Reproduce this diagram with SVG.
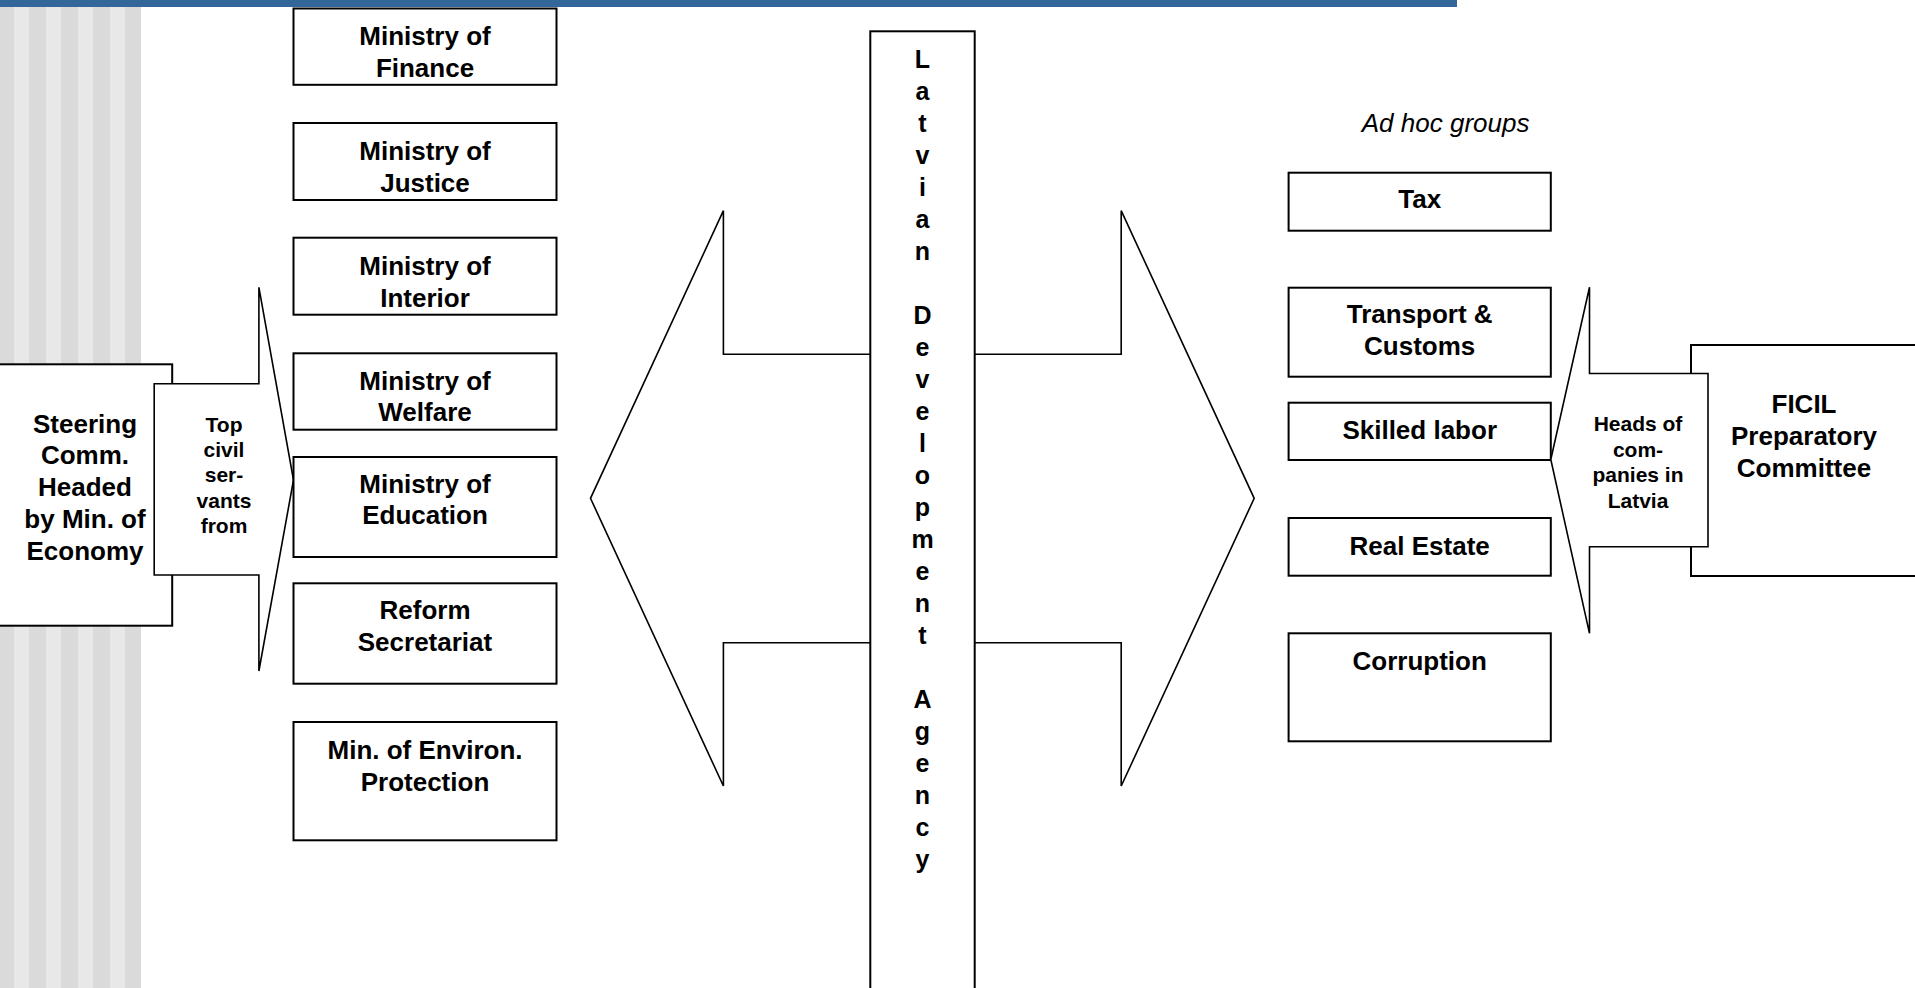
<svg xmlns="http://www.w3.org/2000/svg" width="1915" height="988" viewBox="0 0 1915 988">
  <style>
    text { font-family: "Liberation Sans", Arial, Helvetica, sans-serif; fill: #000; text-anchor: middle; }
    .b { font-weight: bold; font-size: 26px; }
    .s { font-weight: bold; font-size: 21px; }
    .l { font-weight: bold; font-size: 25px; }
    .it { font-style: italic; font-size: 26px; }
    .box { fill: #fff; stroke: #000; stroke-width: 2; }
    .shape { fill: #fff; stroke: #000; stroke-width: 1.6; stroke-linejoin: miter; }
    .dk { fill: #dadada; }
    .lt { fill: #e8e8e8; }
  </style>
  <rect x="0" y="0" width="1915" height="988" fill="#fff"/>
  <g id="background">
    <rect class="dk" x="0" y="7" width="14" height="981"/>
    <rect class="lt" x="14" y="7" width="15" height="981"/>
    <rect class="dk" x="29" y="7" width="17" height="981"/>
    <rect class="lt" x="46" y="7" width="15" height="981"/>
    <rect class="dk" x="61" y="7" width="17" height="981"/>
    <rect class="lt" x="78" y="7" width="15" height="981"/>
    <rect class="dk" x="93" y="7" width="17" height="981"/>
    <rect class="lt" x="110" y="7" width="15" height="981"/>
    <rect class="dk" x="125" y="7" width="16" height="981"/>
    <rect x="0" y="0" width="1457" height="7" fill="#336699"/>
  </g>

  <g id="connectors">
    <polygon id="arrow-left" class="shape" points="871,354.3 723.4,354.3 723.4,210.7 590.5,498.3 723.4,786 723.4,642.7 871,642.7"/>
    <polygon id="arrow-right" class="shape" points="974,354.3 1121.2,354.3 1121.2,210.7 1254.2,498.3 1121.2,786 1121.2,642.7 974,642.7"/>
  </g>

  <g id="steering">
    <rect class="box" x="-2" y="364.3" width="174.2" height="261.4"/>
    <text class="b" x="85" y="433.3">Steering</text>
    <text class="b" x="85" y="464.3">Comm.</text>
    <text class="b" x="85" y="496">Headed</text>
    <text class="b" x="85" y="527.7">by Min. of</text>
    <text class="b" x="85" y="560">Economy</text>
  </g>

  <g id="callout-civil">
    <polygon class="shape" points="154.2,383.7 258.9,383.7 258.9,287.3 293.5,480 258.9,671 258.9,575 154.2,575"/>
    <text class="s" x="224" y="431.7">Top</text>
    <text class="s" x="224" y="456.9">civil</text>
    <text class="s" x="224" y="482.3">ser-</text>
    <text class="s" x="224" y="507.7">vants</text>
    <text class="s" x="224" y="533.2">from</text>
  </g>

  <g id="min-finance">
    <rect class="box" x="293.5" y="8.5" width="263" height="76.3"/>
    <text class="b" x="425" y="45">Ministry of</text>
    <text class="b" x="425" y="76.7">Finance</text>
  </g>
  <g id="min-justice">
    <rect class="box" x="293.5" y="123" width="263" height="77"/>
    <text class="b" x="425" y="160">Ministry of</text>
    <text class="b" x="425" y="191.7">Justice</text>
  </g>
  <g id="min-interior">
    <rect class="box" x="293.5" y="237.7" width="263" height="77"/>
    <text class="b" x="425" y="275">Ministry of</text>
    <text class="b" x="425" y="306.5">Interior</text>
  </g>
  <g id="min-welfare">
    <rect class="box" x="293.5" y="353.3" width="263" height="76.4"/>
    <text class="b" x="425" y="389.5">Ministry of</text>
    <text class="b" x="425" y="421.3">Welfare</text>
  </g>
  <g id="min-education">
    <rect class="box" x="293.5" y="457" width="263" height="100"/>
    <text class="b" x="425" y="492.5">Ministry of</text>
    <text class="b" x="425" y="524.3">Education</text>
  </g>
  <g id="reform-secretariat">
    <rect class="box" x="293.5" y="583.3" width="263" height="100.4"/>
    <text class="b" x="425" y="619">Reform</text>
    <text class="b" x="425" y="650.7">Secretariat</text>
  </g>
  <g id="min-environ">
    <rect class="box" x="293.5" y="722" width="263" height="118.3"/>
    <text class="b" x="425" y="759">Min. of Environ.</text>
    <text class="b" x="425" y="790.7">Protection</text>
  </g>

  <g id="lda">
    <rect class="box" x="870.3" y="31.3" width="104.4" height="970"/>
    <text class="l" x="922.5" y="68">L</text>
    <text class="l" x="922.5" y="100">a</text>
    <text class="l" x="922.5" y="132">t</text>
    <text class="l" x="922.5" y="164">v</text>
    <text class="l" x="922.5" y="196">i</text>
    <text class="l" x="922.5" y="228">a</text>
    <text class="l" x="922.5" y="260">n</text>
    <text class="l" x="922.5" y="324">D</text>
    <text class="l" x="922.5" y="356">e</text>
    <text class="l" x="922.5" y="388">v</text>
    <text class="l" x="922.5" y="420">e</text>
    <text class="l" x="922.5" y="452">l</text>
    <text class="l" x="922.5" y="484">o</text>
    <text class="l" x="922.5" y="516">p</text>
    <text class="l" x="922.5" y="548">m</text>
    <text class="l" x="922.5" y="580">e</text>
    <text class="l" x="922.5" y="612">n</text>
    <text class="l" x="922.5" y="644">t</text>
    <text class="l" x="922.5" y="708">A</text>
    <text class="l" x="922.5" y="740">g</text>
    <text class="l" x="922.5" y="772">e</text>
    <text class="l" x="922.5" y="804">n</text>
    <text class="l" x="922.5" y="836">c</text>
    <text class="l" x="922.5" y="868">y</text>
  </g>

  <g id="adhoc-label">
    <text class="it" x="1445.6" y="131.7">Ad hoc groups</text>
  </g>
  <g id="grp-tax">
    <rect class="box" x="1288.6" y="172.7" width="262.2" height="58"/>
    <text class="b" x="1419.7" y="208.3">Tax</text>
  </g>
  <g id="grp-transport">
    <rect class="box" x="1288.6" y="287.7" width="262.2" height="89"/>
    <text class="b" x="1419.7" y="323.3">Transport &amp;</text>
    <text class="b" x="1419.7" y="355.3">Customs</text>
  </g>
  <g id="grp-skilled">
    <rect class="box" x="1288.6" y="402.7" width="262.2" height="57.3"/>
    <text class="b" x="1419.7" y="439.3">Skilled labor</text>
  </g>
  <g id="grp-realestate">
    <rect class="box" x="1288.6" y="518" width="262.2" height="57.7"/>
    <text class="b" x="1419.7" y="555">Real Estate</text>
  </g>
  <g id="grp-corruption">
    <rect class="box" x="1288.6" y="633.3" width="262.2" height="108"/>
    <text class="b" x="1419.7" y="670">Corruption</text>
  </g>

  <g id="ficil">
    <rect class="box" x="1691" y="345" width="240" height="231"/>
    <text class="b" x="1804" y="413.3">FICIL</text>
    <text class="b" x="1804" y="445">Preparatory</text>
    <text class="b" x="1804" y="476.7">Committee</text>
  </g>
  <g id="callout-heads">
    <polygon class="shape" points="1708,373.5 1589.5,373.5 1589.5,287.3 1550.8,459.5 1589.5,633.3 1589.5,546.7 1708,546.7"/>
    <text class="s" x="1638" y="430.7">Heads of</text>
    <text class="s" x="1638" y="456.5">com-</text>
    <text class="s" x="1638" y="482.4">panies in</text>
    <text class="s" x="1638" y="508.3">Latvia</text>
  </g>
</svg>
